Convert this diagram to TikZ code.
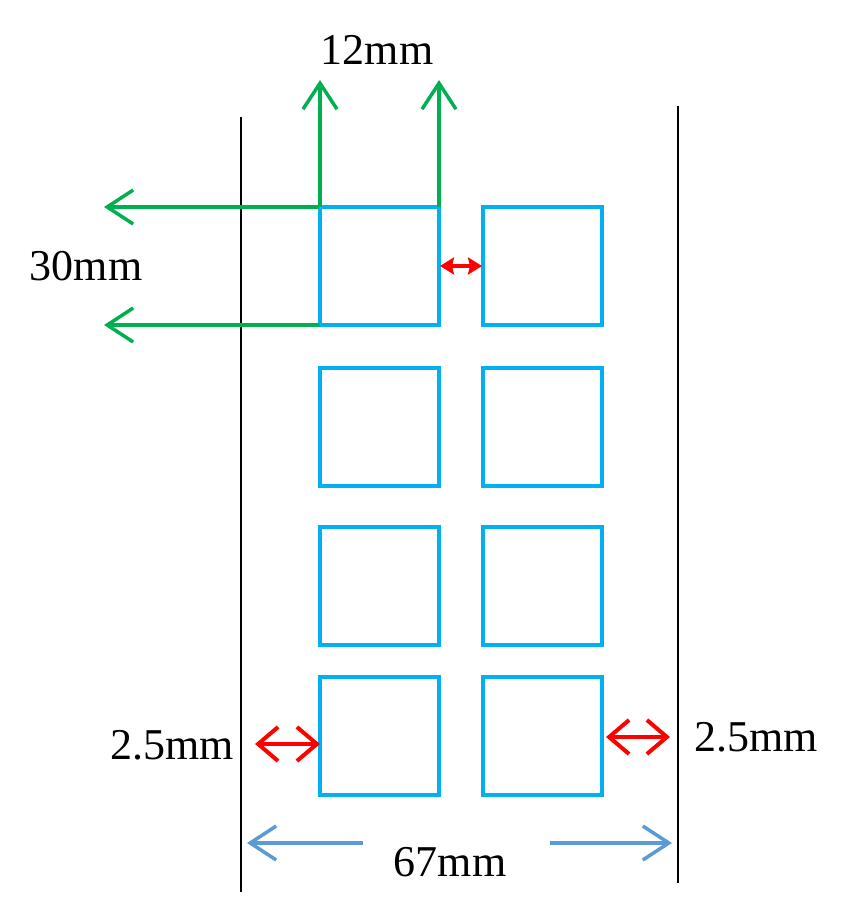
\documentclass[tikz,border=0pt]{standalone}
\usepackage{fontspec}
\setmainfont{Liberation Serif}
\usetikzlibrary{arrows.meta}
\definecolor{sq}{HTML}{00B0F0}
\definecolor{gr}{HTML}{00B050}
\definecolor{bl}{HTML}{5B9BD5}
\definecolor{rd}{HTML}{FF0000}
\begin{document}
\begin{tikzpicture}[x=1pt,y=-1pt,
  cell/.style={draw=sq,line width=3.5pt,minimum width=119pt,minimum height=118pt,inner sep=0pt,outer sep=0pt,anchor=north west},
  garrow/.style={draw=gr,line width=3.5pt,-{Straight Barb[length=26pt,width=34pt,line width=3.5pt]}},
  rarrow/.style={draw=rd,line width=3.5pt,{Straight Barb[length=20pt,width=34pt,line width=4pt]}-{Straight Barb[length=20pt,width=34pt,line width=4pt]}},
  sarrow/.style={draw=rd,line width=4pt,{Stealth[length=14pt,width=17pt,inset=2pt]}-{Stealth[length=14pt,width=17pt,inset=2pt]}},
  barrow/.style={draw=bl,line width=3.5pt,-{Straight Barb[length=26pt,width=34pt,line width=3.5pt]}},
  lbl/.style={font=\fontsize{44}{44}\selectfont,inner sep=0pt}]
\useasboundingbox (0,0) rectangle (851,915);
% frame lines
\coordinate (L1) at (241,117); \coordinate (L2) at (241,892);
\coordinate (R1) at (678,106); \coordinate (R2) at (678,883);
\draw[line width=1.8pt] (L1) -- (L2);
\draw[line width=1.8pt] (R1) -- (R2);
% cells
\node[cell] (a1) at (320,207) {};
\node[cell] (b1) at (483,207) {};
\node[cell] (a2) at (320,368) {};
\node[cell] (b2) at (483,368) {};
\node[cell] (a3) at (320,527) {};
\node[cell] (b3) at (483,527) {};
\node[cell] (a4) at (320,677) {};
\node[cell] (b4) at (483,677) {};
% green dimension arrows
\coordinate (u1) at (320,80); \coordinate (u2) at (439,80);
\coordinate (h1) at (104,207); \coordinate (h2) at (104,325);
\draw[garrow] (a1.north west) -- (u1);
\draw[garrow] (a1.north east) -- (u2);
\draw[garrow] (a1.north west) -- (h1);
\draw[garrow] (a1.south west) -- (h2);
\node[lbl] (t12) at (377,50) {12mm};
\node[lbl] (t30) at (86,266) {30mm};
% small red arrow
\draw[sarrow] ([xshift=1pt]a1.east) -- ([xshift=-1pt]b1.west);
% bottom red arrows
\coordinate (rl) at (255,744); \coordinate (rr) at (670,737);
\draw[rarrow] (rl) -- (a4.west |- rl);
\draw[rarrow] (b4.east |- rr) ++(4,0) coordinate (rs) (rs) -- (rr);
\node[lbl] (tl) at (172,745) {2.5mm};
\node[lbl] (tr) at (756,737) {2.5mm};
% blue arrows
\coordinate (bl1) at (363,843); \coordinate (bl2) at (247,843);
\coordinate (br1) at (550,843); \coordinate (br2) at (672,843);
\draw[barrow] (bl1) -- (bl2);
\draw[barrow] (br1) -- (br2);
\node[lbl] (t67) at (450,862) {67mm};
\end{tikzpicture}
\end{document}
